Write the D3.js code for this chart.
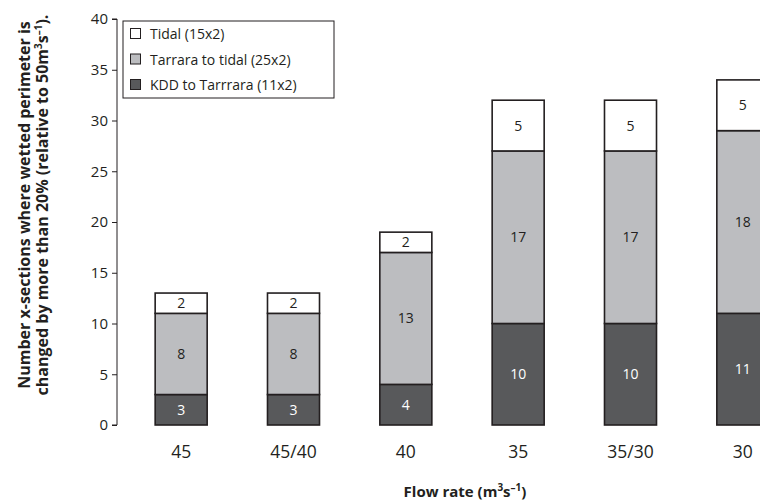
<!DOCTYPE html>
<html><head><meta charset="utf-8">
<script src="https://cdn.jsdelivr.net/npm/d3@7"></script>
<style>
body{margin:0;background:#fff;}
svg{display:block;font-family:"Open Sans",sans-serif;}
</style></head>
<body><svg id="c" width="760" height="502"></svg>
<script>
const categories = ["45","45/40","40","35","35/30","30"];
const kdd = [3,3,4,10,10,11];
const tarrara = [8,8,13,17,17,18];
const tidal = [2,2,2,5,5,5];
const seriesNames = ["KDD to Tarrrara (11x2)","Tarrara to tidal (25x2)","Tidal (15x2)"];
const yTicks = [0,5,10,15,20,25,30,35,40];

const colors = ["#58595b","#bcbdc0","#ffffff"];
const textColors = ["#ffffff","#231f20","#231f20"];
const svg = d3.select("#c");
const stroke = "#231f20";

const y = d3.scaleLinear().domain([0,40]).range([425,19]);
const x = d3.scaleBand().domain(categories).range([125,799]).paddingInner(0.537).paddingOuter(0.2685);

const rows = categories.map((c,i)=>({cat:c, kdd:kdd[i], tarrara:tarrara[i], tidal:tidal[i]}));
const stack = d3.stack().keys(["kdd","tarrara","tidal"])(rows);

// axis
const yAxis = d3.axisLeft(y).tickValues(yTicks).tickSize(5).tickPadding(4);
const ga = svg.append("g").attr("transform","translate(117,0)").call(yAxis);
ga.select(".domain").attr("stroke",stroke).attr("stroke-width",1).attr("d","M-5,"+y(40)+"H0V"+y(0)+"H-5");
ga.selectAll(".tick line").attr("stroke",stroke);
ga.selectAll(".tick text").attr("font-size",15).attr("fill","#231f20").attr("font-family","Open Sans");

// bars
stack.forEach((s,si)=>{
  const g = svg.append("g");
  g.selectAll("rect").data(s).join("rect")
    .attr("x",d=>x(d.data.cat))
    .attr("y",d=>y(d[1]))
    .attr("width",x.bandwidth())
    .attr("height",d=>y(d[0])-y(d[1]))
    .attr("fill",colors[si]).attr("stroke",stroke).attr("stroke-width",1.6);
  g.selectAll("text").data(s).join("text")
    .attr("x",d=>x(d.data.cat)+x.bandwidth()/2)
    .attr("y",d=>(y(d[0])+y(d[1]))/2)
    .attr("dy","0.36em")
    .attr("text-anchor","middle")
    .attr("font-size",14)
    .attr("fill",textColors[si])
    .text(d=>d[1]-d[0]);
});

// x labels
svg.append("g").selectAll("text").data(categories).join("text")
  .attr("x",d=>x(d)+x.bandwidth()/2).attr("y",458)
  .attr("text-anchor","middle").attr("font-size",17.5).attr("fill","#231f20").text(d=>d);

// x title
const xt = svg.append("text").attr("x",465).attr("y",497).attr("text-anchor","middle")
  .attr("font-size",15).attr("font-weight","bold").attr("fill","#231f20");
xt.append("tspan").text("Flow rate (m");
xt.append("tspan").text("3").attr("font-size",10).attr("dy",-6);
xt.append("tspan").text("s").attr("dy",6);
xt.append("tspan").text("\u20131").attr("font-size",10).attr("dy",-6);
xt.append("tspan").text(")").attr("dy",6);

// y title
const yt = svg.append("text").attr("transform","translate(0,205) rotate(-90)")
  .attr("text-anchor","middle").attr("font-size",16).attr("font-weight","bold").attr("fill","#231f20");
yt.append("tspan").attr("x",0).attr("y",30).text("Number x-sections where wetted perimeter is");
const l2 = yt.append("tspan").attr("x",0).attr("y",48);
l2.text("changed by more than 20% (relative to 50m");
yt.append("tspan").text("3").attr("font-size",10).attr("dy",-6);
yt.append("tspan").text("s").attr("dy",6);
yt.append("tspan").text("\u20131").attr("font-size",10).attr("dy",-6);
yt.append("tspan").text(").").attr("dy",6);

// legend
const lg = svg.append("g");
lg.append("rect").attr("x",123).attr("y",21).attr("width",211).attr("height",77)
  .attr("fill","#fff").attr("stroke",stroke).attr("stroke-width",1);
const legendOrder = [2,1,0];
legendOrder.forEach((si,i)=>{
  const cy = 34 + i*25.5;
  lg.append("rect").attr("x",130.5).attr("y",cy-5.5).attr("width",10).attr("height",10)
    .attr("fill",colors[si]).attr("stroke",stroke).attr("stroke-width",1);
  lg.append("text").attr("x",150).attr("y",cy).attr("dy","0.36em")
    .attr("font-size",14).attr("fill","#231f20").text(seriesNames[si]);
});
</script></body></html>
